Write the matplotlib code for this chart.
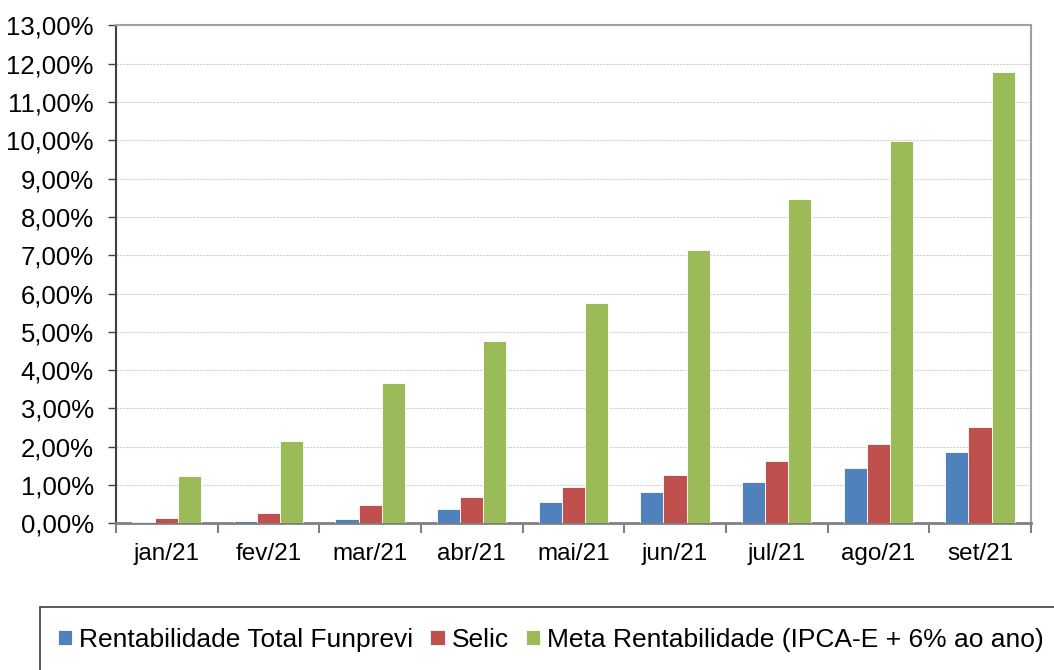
import numpy as np
import matplotlib.pyplot as plt
from matplotlib.patches import Rectangle
from matplotlib.ticker import FuncFormatter, MultipleLocator

plt.rcParams['font.family'] = ['Liberation Sans', 'DejaVu Sans']

meses = ['jan/21', 'fev/21', 'mar/21', 'abr/21', 'mai/21', 'jun/21', 'jul/21', 'ago/21', 'set/21']
funprevi = [0.03, 0.06, 0.11, 0.36, 0.55, 0.81, 1.07, 1.45, 1.86]
selic = [0.13, 0.27, 0.47, 0.69, 0.95, 1.26, 1.63, 2.07, 2.51]
meta = [1.24, 2.14, 3.66, 4.76, 5.75, 7.13, 8.47, 9.98, 11.78]

nomes = ['Rentabilidade Total Funprevi', 'Selic', 'Meta Rentabilidade (IPCA-E + 6% ao ano)']
cores = ['#4F81BD', '#C0504D', '#9BBB59']

fig = plt.figure(figsize=(10.54, 6.7), dpi=100)
ax = fig.add_axes([0.110, 0.219, 0.868, 0.743])

x = np.arange(len(meses))
w = 0.227
for i, (serie, cor, nome) in enumerate(zip([funprevi, selic, meta], cores, nomes)):
    ax.bar(x + (i - 1) * w, serie, w, color=cor, label=nome,
           edgecolor='white', linewidth=0.6, zorder=3)

ax.set_xlim(-0.5, len(meses) - 0.5)
ax.set_ylim(0, 13)
ax.yaxis.set_major_locator(MultipleLocator(1))
ax.yaxis.set_major_formatter(FuncFormatter(lambda v, p: f'{v:.2f}%'.replace('.', ',')))
ax.grid(axis='y', color='#d0d0d0', linestyle=(0, (2, 1)), linewidth=0.8, zorder=0)

# categorias no centro, marcas de divisao entre elas
ax.set_xticks(x)
ax.set_xticklabels(meses)
ax.set_xticks(np.arange(-0.5, len(meses)), minor=True)
ax.tick_params(axis='x', which='major', length=0, pad=14, labelsize=17.5)
ax.tick_params(axis='x', which='minor', length=7, width=1.5, color='#808080', direction='out')
ax.tick_params(axis='y', length=6, width=1, color='#404040', direction='out', labelsize=18.5, pad=10)

for lado in ['top', 'right']:
    ax.spines[lado].set_color('#a0a0a0')
    ax.spines[lado].set_linewidth(1.5)
ax.spines['left'].set_color('#404040')
ax.spines['left'].set_linewidth(1.5)
ax.spines['bottom'].set_color('#808080')
ax.spines['bottom'].set_linewidth(2)

# caixa da legenda
fig.patches.append(Rectangle((0.038, -0.1), 1.0, 0.194, transform=fig.transFigure,
                             fill=False, edgecolor='#404040', linewidth=1.2))
fig.legend(loc='center left', bbox_to_anchor=(0.045, 0.045), ncol=3, frameon=False,
           fontsize=19, handlelength=0.55, handleheight=0.55, handletextpad=0.25,
           columnspacing=0.65, borderaxespad=0)

fig.savefig('out.png', dpi=100)
